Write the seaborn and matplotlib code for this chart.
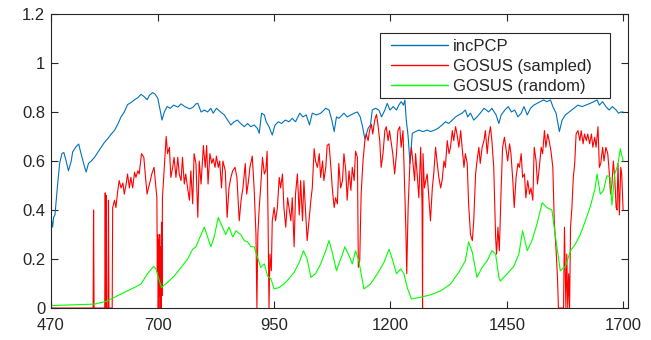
import matplotlib
matplotlib.use("Agg")
import matplotlib.pyplot as plt
from matplotlib.patches import Rectangle
import pandas as pd
import seaborn as sns

# ---- data -----------------------------------------------------------------
inc_frames = [470, 474, 476, 479, 484, 489, 494, 498, 503, 508, 514, 517, 524, 530, 535,
              542, 546, 551, 557, 564, 571, 578, 585, 592, 600, 607, 614, 621, 628, 635,
              642, 650, 657, 664, 671, 677, 682, 689, 694, 700, 705, 709, 714, 720, 727,
              734, 743, 750, 758, 768, 775, 782, 786, 793, 800, 807, 814, 819, 826, 835,
              843, 850, 857, 864, 871, 878, 886, 893, 900, 907, 914, 918, 923, 929, 933,
              939, 946, 952, 959, 966, 974, 982, 989, 996, 1005, 1012, 1019, 1026, 1032, 1041,
              1050, 1061, 1068, 1074, 1079, 1084, 1089, 1095, 1100, 1107, 1115, 1122, 1129, 1135, 1140,
              1145, 1152, 1157, 1161, 1168, 1175, 1181, 1188, 1193, 1199, 1206, 1213, 1218, 1223, 1228,
              1231, 1234, 1238, 1242, 1247, 1254, 1261, 1270, 1279, 1286, 1295, 1302, 1311, 1318, 1325,
              1333, 1340, 1347, 1354, 1361, 1366, 1372, 1379, 1386, 1395, 1401, 1406, 1411, 1418, 1427,
              1433, 1438, 1446, 1453, 1460, 1467, 1474, 1481, 1487, 1494, 1501, 1508, 1515, 1522, 1529,
              1536, 1544, 1549, 1556, 1563, 1569, 1576, 1584, 1594, 1603, 1612, 1620, 1629, 1637, 1644,
              1649, 1656, 1663, 1670, 1677, 1685, 1690, 1696, 1700]
inc_values = [0.38, 0.33, 0.37, 0.38, 0.49, 0.59, 0.63, 0.635, 0.60, 0.56, 0.60, 0.637, 0.658, 0.669, 0.63,
              0.58, 0.555, 0.59, 0.60, 0.615, 0.635, 0.655, 0.675, 0.69, 0.71, 0.725, 0.75, 0.78, 0.80, 0.83,
              0.838, 0.85, 0.858, 0.872, 0.862, 0.85, 0.868, 0.879, 0.873, 0.856, 0.808, 0.767, 0.80, 0.822, 0.815,
              0.828, 0.82, 0.833, 0.822, 0.813, 0.818, 0.833, 0.835, 0.80, 0.808, 0.80, 0.815, 0.795, 0.815, 0.80,
              0.788, 0.767, 0.747, 0.76, 0.767, 0.753, 0.74, 0.753, 0.74, 0.747, 0.733, 0.713, 0.795, 0.788, 0.76,
              0.74, 0.706, 0.747, 0.76, 0.753, 0.767, 0.76, 0.774, 0.76, 0.795, 0.78, 0.788, 0.747, 0.795, 0.788,
              0.795, 0.815, 0.808, 0.767, 0.72, 0.78, 0.774, 0.785, 0.795, 0.78, 0.788, 0.795, 0.80, 0.78, 0.74,
              0.69, 0.733, 0.747, 0.808, 0.815, 0.808, 0.78, 0.808, 0.835, 0.808, 0.822, 0.808, 0.828, 0.842, 0.828,
              0.849, 0.767, 0.70, 0.59, 0.713, 0.72, 0.726, 0.72, 0.726, 0.72, 0.726, 0.733, 0.747, 0.76, 0.753,
              0.767, 0.78, 0.788, 0.795, 0.808, 0.78, 0.795, 0.767, 0.78, 0.80, 0.815, 0.808, 0.80, 0.815, 0.788,
              0.753, 0.788, 0.808, 0.822, 0.80, 0.808, 0.78, 0.795, 0.822, 0.788, 0.815, 0.828, 0.835, 0.842, 0.849,
              0.842, 0.849, 0.822, 0.795, 0.72, 0.767, 0.788, 0.80, 0.815, 0.828, 0.822, 0.828, 0.835, 0.842, 0.849,
              0.828, 0.842, 0.822, 0.808, 0.822, 0.808, 0.795, 0.80, 0.80]

sampled_frames = [470, 561, 562, 563, 586, 587, 588, 589, 590, 593, 594, 595, 602, 603,
                  607, 610, 614, 617, 621, 625, 628, 632, 635, 639, 642, 646, 650, 653, 657,
                  660, 665, 670, 673, 677, 680, 684, 687, 692, 696, 698, 699, 700, 701, 702,
                  703, 704, 705, 706, 707, 708, 709, 710, 714, 718, 721, 725, 728, 732, 735,
                  739, 743, 746, 750, 753, 757, 760, 764, 768, 771, 775, 778, 782, 786, 789,
                  793, 798, 802, 805, 808, 812, 816, 819, 823, 826, 830, 833, 837, 840, 845,
                  849, 853, 857, 861, 866, 870, 875, 879, 883, 888, 891, 895, 898, 903, 907,
                  911, 913, 915, 918, 921, 925, 929, 932, 935, 937, 939, 941, 944, 946, 950,
                  953, 957, 961, 964, 968, 971, 975, 979, 982, 986, 989, 993, 996, 1000, 1004,
                  1007, 1011, 1014, 1018, 1021, 1025, 1029, 1032, 1036, 1039, 1043, 1047, 1050, 1054, 1057,
                  1061, 1064, 1068, 1072, 1075, 1079, 1082, 1086, 1089, 1093, 1097, 1100, 1104, 1107, 1111,
                  1115, 1118, 1122, 1125, 1129, 1131, 1134, 1137, 1141, 1145, 1148, 1152, 1155, 1159, 1162,
                  1166, 1170, 1173, 1177, 1180, 1184, 1188, 1191, 1195, 1198, 1202, 1205, 1209, 1213, 1216,
                  1220, 1223, 1227, 1230, 1233, 1235, 1238, 1242, 1245, 1248, 1252, 1254, 1258, 1261, 1265,
                  1268, 1269, 1270, 1273, 1276, 1279, 1283, 1286, 1290, 1293, 1297, 1300, 1304, 1308, 1311,
                  1315, 1318, 1322, 1326, 1329, 1333, 1336, 1340, 1343, 1347, 1351, 1354, 1358, 1361, 1365,
                  1368, 1372, 1376, 1379, 1383, 1386, 1390, 1393, 1397, 1401, 1404, 1408, 1411, 1415, 1418,
                  1422, 1426, 1428, 1431, 1434, 1438, 1441, 1445, 1449, 1452, 1456, 1459, 1463, 1466, 1470,
                  1474, 1477, 1481, 1484, 1488, 1491, 1495, 1499, 1502, 1506, 1509, 1513, 1516, 1520, 1524,
                  1527, 1531, 1534, 1538, 1541, 1545, 1549, 1552, 1556, 1559, 1561, 1572, 1574, 1577, 1579,
                  1581, 1583, 1585, 1587, 1590, 1593, 1596, 1599, 1603, 1607, 1610, 1614, 1617, 1621, 1624,
                  1628, 1632, 1635, 1639, 1642, 1646, 1649, 1652, 1656, 1659, 1663, 1667, 1670, 1673, 1676,
                  1679, 1682, 1685, 1687, 1689, 1692, 1695, 1697, 1700]
sampled_values = [0, 0, 0.40, 0, 0, 0.47, 0, 0.46, 0, 0, 0.44, 0, 0, 0.41,
                  0.44, 0.41, 0.48, 0.52, 0.49, 0.51, 0.465, 0.506, 0.547, 0.49, 0.533, 0.49, 0.554, 0.533, 0.56,
                  0.547, 0.63, 0.615, 0.547, 0.465, 0.49, 0.52, 0.547, 0.574, 0.49, 0.45, 0.15, 0.30, 0, 0.28,
                  0.05, 0.30, 0, 0.25, 0, 0.35, 0.05, 0.45, 0.574, 0.70, 0.63, 0.656, 0.533, 0.574, 0.615,
                  0.533, 0.615, 0.547, 0.52, 0.615, 0.506, 0.547, 0.49, 0.44, 0.56, 0.425, 0.63, 0.59, 0.37, 0.60,
                  0.506, 0.663, 0.574, 0.663, 0.506, 0.63, 0.59, 0.61, 0.574, 0.62, 0.574, 0.60, 0.49, 0.60, 0.56,
                  0.37, 0.49, 0.533, 0.56, 0.574, 0.533, 0.356, 0.44, 0.49, 0.59, 0.465, 0.52, 0.574, 0.62, 0.49,
                  0.30, 0, 0.30, 0.41, 0.49, 0.615, 0.547, 0.56, 0.64, 0.356, 0, 0.22, 0.152, 0.356, 0.41,
                  0.356, 0.41, 0.533, 0.49, 0.547, 0.41, 0.33, 0.45, 0.41, 0.356, 0.45, 0.25, 0.465, 0.547, 0.38,
                  0.52, 0.356, 0.52, 0.38, 0.275, 0.356, 0.44, 0.49, 0.65, 0.60, 0.574, 0.63, 0.533, 0.60, 0.52,
                  0.574, 0.663, 0.67, 0.574, 0.49, 0.41, 0.45, 0.425, 0.59, 0.49, 0.52, 0.63, 0.56, 0.44, 0.56,
                  0.48, 0.574, 0.52, 0.64, 0.615, 0.166, 0.193, 0.465, 0.60, 0.683, 0.71, 0.683, 0.724, 0.75, 0.71,
                  0.765, 0.79, 0.75, 0.683, 0.574, 0.63, 0.724, 0.74, 0.683, 0.724, 0.67, 0.63, 0.547, 0.63, 0.724,
                  0.74, 0.656, 0.724, 0.52, 0.33, 0.14, 0.41, 0.60, 0.656, 0.60, 0.52, 0.63, 0.533, 0.45, 0.656,
                  0.41, 0, 0.63, 0.49, 0.52, 0.547, 0.44, 0.356, 0.49, 0.547, 0.656, 0.60, 0.533, 0.49, 0.52,
                  0.60, 0.574, 0.683, 0.63, 0.656, 0.724, 0.683, 0.74, 0.71, 0.656, 0.724, 0.656, 0.574, 0.63, 0.59,
                  0.425, 0.30, 0.275, 0.356, 0.547, 0.60, 0.656, 0.59, 0.656, 0.683, 0.724, 0.63, 0.697, 0.74, 0.683,
                  0.574, 0.29, 0.22, 0.33, 0.234, 0.49, 0.656, 0.697, 0.64, 0.60, 0.67, 0.63, 0.52, 0.41, 0.533,
                  0.59, 0.574, 0.63, 0.533, 0.547, 0.45, 0.52, 0.465, 0.49, 0.44, 0.656, 0.60, 0.506, 0.574, 0.656,
                  0.63, 0.724, 0.656, 0.71, 0.683, 0.64, 0.574, 0.356, 0.234, 0.125, 0, 0, 0.33, 0, 0.22,
                  0, 0.14, 0, 0.33, 0.41, 0.533, 0.59, 0.71, 0.724, 0.683, 0.724, 0.67, 0.71, 0.683, 0.71,
                  0.67, 0.71, 0.656, 0.697, 0.656, 0.74, 0.574, 0.59, 0.656, 0.60, 0.656, 0.63, 0.56, 0.465, 0.506,
                  0.60, 0.533, 0.41, 0.40, 0.59, 0.38, 0.574, 0.547, 0.40]

random_frames = [470, 564, 589, 607, 628, 650, 664, 678, 691, 696, 701, 708, 721, 735, 750,
                 764, 775, 782, 793, 800, 807, 814, 821, 830, 839, 846, 853, 861, 868, 878,
                 886, 893, 900, 907, 914, 921, 929, 936, 943, 950, 961, 971, 982, 993, 1004,
                 1013, 1021, 1029, 1039, 1050, 1061, 1068, 1075, 1084, 1089, 1097, 1102, 1111, 1118, 1125,
                 1132, 1143, 1157, 1172, 1186, 1197, 1204, 1213, 1222, 1229, 1236, 1245, 1265, 1286, 1308,
                 1329, 1347, 1361, 1368, 1376, 1386, 1397, 1408, 1418, 1426, 1433, 1436, 1451, 1465, 1476,
                 1484, 1494, 1504, 1515, 1526, 1536, 1547, 1554, 1565, 1576, 1587, 1597, 1608, 1619, 1630,
                 1640, 1644, 1651, 1658, 1665, 1672, 1676, 1682, 1687, 1690, 1694, 1700]
random_values = [0.01, 0.016, 0.027, 0.044, 0.064, 0.084, 0.098, 0.14, 0.17, 0.16, 0.125, 0.084, 0.105, 0.13, 0.166,
                 0.20, 0.24, 0.25, 0.30, 0.33, 0.29, 0.25, 0.29, 0.37, 0.33, 0.30, 0.33, 0.29, 0.315, 0.30,
                 0.275, 0.27, 0.25, 0.25, 0.21, 0.166, 0.18, 0.13, 0.12, 0.078, 0.084, 0.098, 0.12, 0.146, 0.186,
                 0.234, 0.20, 0.125, 0.14, 0.18, 0.234, 0.275, 0.227, 0.152, 0.18, 0.22, 0.25, 0.214, 0.18, 0.234,
                 0.193, 0.078, 0.098, 0.14, 0.186, 0.24, 0.20, 0.14, 0.16, 0.14, 0.084, 0.037, 0.044, 0.054, 0.07,
                 0.098, 0.146, 0.193, 0.27, 0.227, 0.125, 0.166, 0.193, 0.234, 0.22, 0.125, 0.11, 0.14, 0.17, 0.22,
                 0.315, 0.234, 0.275, 0.343, 0.43, 0.41, 0.40, 0.30, 0.152, 0.17, 0.234, 0.26, 0.30, 0.356, 0.417,
                 0.49, 0.547, 0.465, 0.48, 0.54, 0.535, 0.42, 0.547, 0.574, 0.60, 0.65, 0.60]

series_names = ["incPCP", "GOSUS (sampled)", "GOSUS (random)"]
series_colors = ["#0072BD", "#FF0000", "#00FF00"]
x_ticks = [470, 700, 950, 1200, 1450, 1700]
y_ticks = [0, 0.2, 0.4, 0.6, 0.8, 1.0, 1.2]
y_tick_labels = ["0", "0.2", "0.4", "0.6", "0.8", "1", "1.2"]

# ---- long-form table ------------------------------------------------------
parts = [
    pd.DataFrame({"frame": inc_frames, "value": inc_values, "method": series_names[0]}),
    pd.DataFrame({"frame": sampled_frames, "value": sampled_values, "method": series_names[1]}),
    pd.DataFrame({"frame": random_frames, "value": random_values, "method": series_names[2]}),
]
df = pd.concat(parts, ignore_index=True)

# ---- figure ---------------------------------------------------------------
sns.set_style("white")
plt.rcParams["font.family"] = ["Liberation Sans", "DejaVu Sans"]

fig = plt.figure(figsize=(6.51, 3.40), dpi=100)
ax = fig.add_axes([0.078, 0.094, 0.887, 0.865])

sns.lineplot(data=df, x="frame", y="value", hue="method", hue_order=series_names,
             palette=dict(zip(series_names, series_colors)), estimator=None,
             sort=False, linewidth=0.8, ax=ax)

ax.set_xlim(470, 1711)
ax.set_ylim(0, 1.2)
ax.set_xticks(x_ticks)
ax.set_xticklabels([str(t) for t in x_ticks])
ax.set_yticks(y_ticks)
ax.set_yticklabels(y_tick_labels)
ax.set_xlabel("")
ax.set_ylabel("")

for side in ["left", "right", "top", "bottom"]:
    ax.spines[side].set_visible(True)
    ax.spines[side].set_color("#262626")
    ax.spines[side].set_linewidth(0.8)
ax.tick_params(direction="in", length=5, width=0.8, colors="#262626",
               labelsize=12, top=True, right=True, bottom=True, left=True)
ax.tick_params(axis="x", pad=7)
ax.tick_params(axis="y", pad=4)

# legend box drawn as a plain rectangle, entries placed inside it
ax.add_patch(Rectangle((0.571, 0.714), 0.397, 0.221, transform=ax.transAxes,
                       facecolor="white", edgecolor="#262626", linewidth=0.8,
                       zorder=4, clip_on=False))
leg = ax.legend(loc="upper left", bbox_to_anchor=(0.589, 0.914), fontsize=12,
                frameon=False, handlelength=3.42, handletextpad=0.3,
                labelspacing=0.30, borderpad=0, borderaxespad=0)
leg.set_zorder(5)
for line in leg.get_lines():
    line.set_linewidth(1.0)

fig.savefig("out.png", dpi=100)
